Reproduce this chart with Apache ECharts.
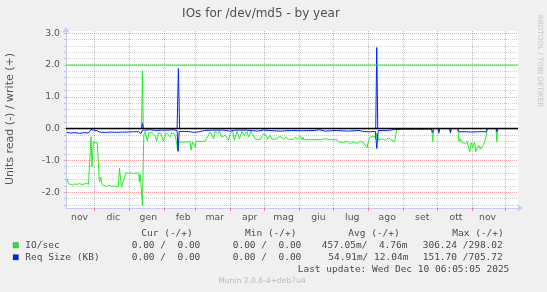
<!DOCTYPE html>
<html><head><meta charset="utf-8">
<script src="https://cdn.jsdelivr.net/npm/echarts@6/dist/echarts.min.js"></script>
<style>html,body{margin:0;padding:0;background:#f0f0f0;}#c{width:547px;height:292px;}</style>
</head><body><div id="c"></div>
<script>
// x values are days since 2024-11-06 (left edge of the plot)
var monthStarts = [25,56,87,115,146,176,207,237,268,299,329,360,390];
var monthLabelDays = [12,42,73,104,132,163,193,224,254,285,316,346,374];
var monthLabels = ['nov','dic','gen','feb','mar','apr','mag','giu','lug','ago','set','ott','nov'];
var yLabels = [-2,-1,0,1,2,3];

// IO/sec read (plotted negative)
var ioReadDay = [0.9,2.4,4,6,8,10,12,14,16,18,20,21.3,22.2,23.1,24.3,26,27.8,29.6,30.8,32,34,36,38,40,42,44,46.5,47.4,49.1,50.2,51.5,53.3,56,58,60,62,64.5,65.1,65.7,66.6,67.8,69,70.2,72.2,73.4,76.1,79,80.5,82,84,86.4,88.8,92.4,93.8,96.8,99.2,100.4,104,108,110.1,111,112.2,114.6,115.5,120,123.4,123.7,127.9,129.4,130.8,132.3,134.4,136.2,138.3,141.2,144.2,145.6,148,149.2,151.6,153,153.9,156,158.1,160.5,161.9,164,165.8,167.9,172.3,175.2,177.6,178.8,181.2,182.7,187.1,190,193,195.4,197.4,201.9,203.4,205.4,207.8,209.3,210.2,210.8,216.7,225.6,230,234.5,240.4,241.8,246.3,249.3,252.2,255.2,258.2,261.1,264,265.5,267,268.5,270,273.5,274.7,275.9,277.4,280.4,283.3,286.3,289.3,291.6,292.5,293.7,324.5,325.3,326.2,330,330.8,331.6,340.4,341.1,341.8,347.5,347.8,348.7,349.9,351.4,352.8,354.3,355.9,357.3,358.2,359.4,360.9,362.4,363.5,364.7,366.2,367.7,369.2,370.6,372.1,373,373.6,381.5,382.2,383,400];
var ioReadVal = [-1.58,-1.74,-1.76,-1.78,-1.74,-1.76,-1.73,-1.76,-1.75,-1.72,-1.75,-1.74,-0.26,-1.21,-0.42,-0.47,-0.45,-1.68,-1.53,-1.76,-1.80,-1.82,-1.78,-1.82,-1.80,-1.83,-1.81,-1.24,-1.83,-1.80,-1.58,-1.39,-1.41,-1.39,-1.42,-1.40,-1.40,-1.68,-1.44,-1.77,-2.42,-0.21,-0.09,-0.40,-0.13,-0.13,-0.21,-0.40,-0.13,-0.15,-0.40,-0.13,-0.26,-0.13,-0.20,-0.68,-0.42,-0.43,-0.42,-0.41,-0.68,-0.42,-0.58,-0.40,-0.40,-0.40,-0.34,-0.11,-0.21,-0.32,-0.09,-0.16,-0.09,-0.27,-0.21,-0.37,-0.16,-0.09,-0.37,-0.09,-0.11,-0.32,-0.09,-0.21,-0.09,-0.27,-0.09,-0.19,-0.34,-0.34,-0.16,-0.21,-0.34,-0.21,-0.34,-0.32,-0.24,-0.34,-0.27,-0.34,-0.34,-0.27,-0.34,-0.24,-0.35,-0.27,-0.35,-0.35,-0.35,-0.32,-0.35,-0.35,-0.42,-0.44,-0.40,-0.47,-0.42,-0.47,-0.40,-0.44,-0.42,-0.61,-0.37,-0.27,-0.24,-0.32,-0.14,-0.37,-0.32,-0.37,-0.30,-0.37,-0.42,-0.21,0,0,-0.40,0,0,-0.16,0,0,-0.16,0,0,-0.09,-0.42,-0.32,-0.44,-0.40,-0.47,-0.40,-0.63,-0.73,-0.44,-0.58,-0.42,-0.73,-0.63,-0.53,-0.65,-0.61,-0.50,-0.47,-0.21,0,0,-0.42,0,0];

// IO/sec write (plotted positive)
var ioWriteDay = [0,67,67.8,68.6,400];
var ioWriteVal = [0,0,1.82,0,0];

// Req Size read (plotted negative)
var reqReadDay = [0.9,4,8,12,16,20,21.5,22.2,24.3,27.8,29.6,35,40,45,50,55,60,64.5,66.6,67.8,70,75,80,85,90,95,98.6,99.4,100.4,105,110,114,118,123,130,140,145,150,160,170,175,190,200,210,220,225,230,240,250,260,265,270,274.5,275.7,277,285,292,300,310,320,324,324.5,325.3,326.2,330,330.8,331.6,340.4,341.1,341.8,347.5,348.3,355,360,365,370,373,373.6,381.5,382.2,383,400];
var reqReadVal = [-0.12,-0.14,-0.13,-0.15,-0.13,-0.14,-0.13,-0.03,-0.05,-0.07,-0.11,-0.12,-0.11,-0.12,-0.11,-0.11,-0.10,-0.10,-0.16,-0.05,-0.05,-0.04,-0.06,-0.05,-0.05,-0.04,-0.06,-0.72,-0.09,-0.09,-0.10,-0.12,-0.10,-0.06,-0.05,-0.05,-0.08,-0.05,-0.05,-0.08,-0.05,-0.08,-0.06,-0.07,-0.06,-0.04,-0.08,-0.06,-0.08,-0.06,-0.10,-0.10,-0.09,-0.63,-0.06,-0.06,-0.03,-0.02,-0.02,-0.02,-0.02,0,-0.12,0,0,-0.12,0,0,-0.12,0,0,-0.10,-0.10,-0.11,-0.10,-0.10,-0.10,0,0,-0.10,0,0];

// Req Size write (plotted positive)
var reqWriteDay = [0,67,67.8,68.6,98.6,99.7,100.8,274.8,275.7,276.6,400];
var reqWriteVal = [0,0,0.16,0,0,1.89,0,0,2.55,0,0];

// horizontal rules drawn across the whole graph
var ruleDays = [0,401];
var zeroRuleVals = [0,0];
var greenRuleVals = [2,2];

function zip(a,b){var r=[];for(var i=0;i<a.length;i++)r.push([a[i],b[i]]);return r;}

var GREEN='#22ee22', BLUE='#0022ff';
var minorGrid='#cfcfcf', majorGrid='rgba(255,0,0,0.38)';
var gridLines=[];
for (var k=-12;k<=15;k++){ if (k%5===0) continue; gridLines.push({yAxis:k/5,lineStyle:{color:minorGrid,type:[1,1],width:1}}); }
yLabels.forEach(function(v){ gridLines.push({yAxis:v,lineStyle:{color:majorGrid,type:[1,1],width:1}}); });
monthStarts.forEach(function(v){ gridLines.push({xAxis:v,lineStyle:{color:majorGrid,type:[1,1],width:1}}); });

var yTicks=[]; for (var q=-12;q<=15;q++) yTicks.push(q/5);

function lineSeries(data,color,z,w){
  return {type:'line',data:data,showSymbol:false,symbol:'none',z:z,clip:true,
    lineStyle:{color:color,width:w||1},itemStyle:{color:color},animation:false,silent:true};
}

var chart = echarts.init(document.getElementById('c'),null,{renderer:'canvas'});
var mono = 'DejaVu Sans Mono', TC='#4a4a4a', FS=9.5;
function txt(x,y,s,opt){ opt=opt||{}; return {type:'text',x:x,y:y,silent:true,style:{text:s,fill:opt.fill||TC,font:(opt.size||FS)+'px "'+(opt.font||mono)+'"',textAlign:'left',textVerticalAlign:'middle'}}; }

chart.setOption({
  backgroundColor:'#f0f0f0',
  animation:false,
  grid:{left:66,top:31,right:29,bottom:84,show:true,backgroundColor:'#ffffff',borderWidth:0},
  xAxis:{type:'value',min:0,max:401,
    axisLine:{show:true,onZero:false,lineStyle:{color:'#c8c8f4',width:1},symbol:['none','arrow'],symbolSize:[6,6],symbolOffset:[0,5]},
    axisTick:{show:true,customValues:monthStarts,length:3,lineStyle:{color:'rgba(255,0,0,0.45)'}},
    axisLabel:{customValues:monthLabelDays,margin:5,color:'#555',fontFamily:'DejaVu Sans',fontSize:9.3,
      formatter:function(v){var i=monthLabelDays.indexOf(v);return i>=0?monthLabels[i]:'';}},
    splitLine:{show:false}},
  yAxis:{type:'value',min:-2.5,max:3.07,
    axisLine:{show:true,onZero:false,lineStyle:{color:'#c8c8f4',width:1},symbol:['none','arrow'],symbolSize:[6,6],symbolOffset:[0,4]},
    axisTick:{show:true,customValues:yTicks,length:2,lineStyle:{color:'#c0c0c0'}},
    axisLabel:{customValues:yLabels,margin:6,color:'#555',fontFamily:'DejaVu Sans',fontSize:9.3,
      formatter:function(v){return v.toFixed(1);}},
    splitLine:{show:false}},
  series:[
    {type:'line',data:[[0,0]],symbol:'none',z:1,lineStyle:{opacity:0},silent:true,animation:false,
      markLine:{silent:true,z:1,symbol:['none','none'],label:{show:false},animation:false,data:gridLines}},
    lineSeries(zip(ioReadDay,ioReadVal),GREEN,2),
    lineSeries(zip(ioWriteDay,ioWriteVal),GREEN,2),
    lineSeries(zip(reqReadDay,reqReadVal),BLUE,3),
    lineSeries(zip(reqWriteDay,reqWriteVal),BLUE,3),
    lineSeries(zip(ruleDays,zeroRuleVals),'#000000',4,1.5),
    lineSeries(zip(ruleDays,greenRuleVals),GREEN,5,1.2)
  ],
  graphic:[
    {type:'text',x:261,y:13.5,silent:true,style:{text:'IOs for /dev/md5 - by year',fill:'#505050',font:'12px "DejaVu Sans"',textAlign:'center',textVerticalAlign:'middle'}},
    {type:'text',x:10,y:119,rotation:Math.PI/2,silent:true,style:{text:'Units read (-) / write (+)',fill:'#555',font:'11px "DejaVu Sans"',textAlign:'center',textVerticalAlign:'middle'}},
    {type:'text',x:540,y:61,rotation:-Math.PI/2,silent:true,style:{text:'RRDTOOL / TOBI OETIKER',fill:'#c8c8c8',font:'7.2px "DejaVu Sans"',textAlign:'center',textVerticalAlign:'middle'}},
    txt(141.3,233.3,'Cur (-/+)'), txt(245,233.3,'Min (-/+)'), txt(348.3,233.3,'Avg (-/+)'), txt(452.3,233.3,'Max (-/+)'),
    {type:'rect',shape:{x:13,y:242.5,width:5.5,height:5.5},silent:true,style:{fill:GREEN,stroke:'#555',lineWidth:0.3}},
    txt(25.3,245.7,'IO/sec'), txt(131.7,245.7,'0.00 /  0.00'), txt(232.7,245.7,'0.00 /  0.00'), txt(321.7,245.7,'457.05m/  4.76m'), txt(422.7,245.7,'306.24 /298.02'),
    {type:'rect',shape:{x:13,y:254.5,width:5.5,height:5.5},silent:true,style:{fill:BLUE,stroke:'#555',lineWidth:0.3}},
    txt(25.3,257.7,'Req Size (KB)'), txt(131.7,257.7,'0.00 /  0.00'), txt(232.7,257.7,'0.00 /  0.00'), txt(328.3,257.7,'54.91m/ 12.04m'), txt(422.7,257.7,'151.70 /705.72'),
    txt(297.7,269.7,'Last update: Wed Dec 10 06:05:05 2025'),
    {type:'text',x:262,y:281.3,silent:true,style:{text:'Munin 2.0.6-4+deb7u4',fill:'#bbbbbb',font:'7.6px "DejaVu Sans"',textAlign:'center',textVerticalAlign:'middle'}}
  ]
});
</script></body></html>
